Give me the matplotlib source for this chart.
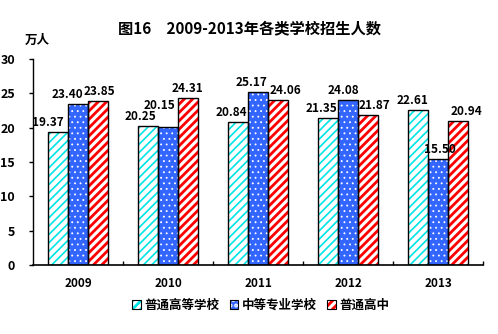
import matplotlib
matplotlib.use("Agg")
import matplotlib.pyplot as plt
import numpy as np
from matplotlib.legend_handler import HandlerTuple
from matplotlib.patches import Patch

plt.rcParams['font.family'] = ['Noto Sans CJK SC', 'DejaVu Sans']
plt.rcParams['font.weight'] = 'bold'

years = ['2009', '2010', '2011', '2012', '2013']
series_names = ['普通高等学校', '中等专业学校', '普通高中']
higher_edu = [19.37, 20.25, 20.84, 21.35, 22.61]
vocational = [23.40, 20.15, 25.17, 24.08, 15.50]
senior_high = [23.85, 24.31, 24.06, 21.87, 20.94]

# face colour, hatch colour, hatch pattern, hatch line width
styles = [
    ('white', '#00E5E5', '////', 1.2),
    ('#3366FF', 'white', '...', 0.6),
    ('white', '#FF0000', '////', 2.0),
]

# nudges for the value labels, in pixels (dx, dy)
label_nudge = [
    [(-10, 0), (-8, 0), (-7, 0), (-7, 0), (-6, 0)],
    [(-11, 0), (-9, 12), (-7, 0), (-5, 0), (2, 0)],
    [(1, 0), (-1, 0), (7, 0), (6, 0), (8, 0)],
]

fig = plt.figure(figsize=(4.98, 3.34), dpi=100)
ax = fig.add_axes([0.0663, 0.2066, 0.9037, 0.6164])

x = np.arange(len(years))
width = 0.222
handles = []
for k, vals in enumerate([higher_edu, vocational, senior_high]):
    fc, hc, hatch, hlw = styles[k]
    plt.rcParams['hatch.linewidth'] = hlw
    pos = x + (k - 1) * width
    bars = ax.bar(pos, vals, width, color=fc, edgecolor=hc, hatch=hatch, linewidth=0, zorder=2)
    for b in bars:
        if hasattr(b, 'set_hatch_linewidth'):
            b.set_hatch_linewidth(hlw)
    ax.bar(pos, vals, width, facecolor='none', edgecolor='black', linewidth=1.0, zorder=3)
    # legend key: hatched fill with a black outline on top
    outline = Patch(facecolor='none', edgecolor='black', linewidth=0.8)
    handles.append((bars[0], outline))
    for xp, v, (dx, dy) in zip(pos, vals, label_nudge[k]):
        ax.annotate(f'{v:.2f}', (xp, v), xytext=(dx * 0.72, (dy + 3) * 0.72),
                    textcoords='offset points', ha='center', va='bottom',
                    fontsize=8.5, fontweight='bold', zorder=4)

ax.set_xlim(-0.5, len(years) - 0.5)
ax.set_ylim(0, 30)
ax.set_yticks(np.arange(0, 31, 5))
ax.tick_params(axis='y', direction='out', length=3, width=1, labelsize=9, pad=10)
ax.set_xticks(x)
ax.set_xticklabels(years, fontsize=8.5, fontweight='bold')
ax.tick_params(axis='x', length=0, pad=9)
ax.set_xticks(np.arange(0.5, len(years)), minor=True)
ax.tick_params(axis='x', which='minor', direction='in', length=3, width=1)
for lab in ax.get_yticklabels():
    lab.set_fontweight('bold')

ax.spines['top'].set_visible(False)
ax.spines['right'].set_visible(False)
ax.spines['left'].set_linewidth(1)
ax.spines['bottom'].set_linewidth(1.2)

fig.text(0.5, 0.915, '图16　2009-2013年各类学校招生人数', ha='center', va='center',
         fontsize=11, fontweight='bold')
fig.text(0.075, 0.878, '万人', ha='center', va='center', fontsize=9, fontweight='bold')

fig.legend(handles, series_names, loc='center', bbox_to_anchor=(0.524, 0.085), ncol=3,
           frameon=False, fontsize=9, handlelength=0.7, handleheight=0.7,
           handletextpad=0.3, columnspacing=0.8,
           handler_map={tuple: HandlerTuple(ndivide=1, pad=0)})

fig.savefig('out.png', dpi=100)
